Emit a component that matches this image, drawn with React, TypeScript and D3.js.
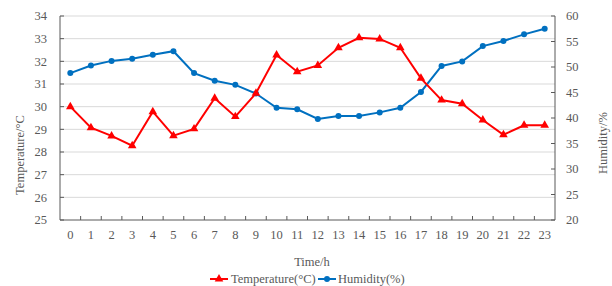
import React from "react";
import * as d3 from "d3";

const hours = ["0","1","2","3","4","5","6","7","8","9","10","11","12","13","14","15","16","17","18","19","20","21","22","23"];
const temperature = [30.0,29.07,28.71,28.28,29.78,28.72,29.02,30.37,29.56,30.59,32.28,31.54,31.82,32.6,33.04,32.99,32.6,31.25,30.29,30.13,29.41,28.76,29.18,29.18];
const humidity = [48.8,50.3,51.2,51.6,52.4,53.1,48.8,47.3,46.5,44.8,42.0,41.7,39.8,40.4,40.4,41.1,42.0,45.1,50.2,51.1,54.1,55.1,56.4,57.5];
const tempTicks = [25,26,27,28,29,30,31,32,33,34];
const humTicks = [20,25,30,35,40,45,50,55,60];

const W = 612, H = 286;
const left = 60, right = 555, top = 16, bottom = 220;
const RED = "#FF0000", BLUE = "#0070C0";
const FONT = "'Liberation Serif', 'Times New Roman', serif";
const TXT = "#595959";

export default function App() {
  const x = d3.scaleBand<string>().domain(hours).range([left, right]);
  const yT = d3.scaleLinear().domain([25, 34]).range([bottom, top]);
  const yH = d3.scaleLinear().domain([20, 60]).range([bottom, top]);
  const cx = (h: string) => (x(h) as number) + x.bandwidth() / 2;
  const lineT = d3.line<number>().x((_, i) => cx(hours[i])).y(d => yT(d));
  const lineH = d3.line<number>().x((_, i) => cx(hours[i])).y(d => yH(d));
  const tri = d3.symbol().type(d3.symbolTriangle).size(32)();
  const boundaries = hours.map(h => x(h) as number).concat([right]);

  return (
    <svg width={W} height={H} style={{ position: "absolute", left: 0, top: 0, background: "#fff" }}>
      {tempTicks.slice(1).map(t => (
        <line key={"g" + t} x1={left} x2={right} y1={yT(t)} y2={yT(t)} stroke="#D9D9D9" strokeWidth={1} />
      ))}
      <line x1={left} x2={left} y1={top} y2={bottom} stroke="#595959" strokeWidth={1} />
      <line x1={right} x2={right} y1={top} y2={bottom} stroke="#595959" strokeWidth={1} />
      <line x1={left} x2={right} y1={bottom} y2={bottom} stroke="#595959" strokeWidth={1} />
      {tempTicks.map(t => (
        <g key={"lt" + t}>
          <line x1={left} x2={left + 4} y1={yT(t)} y2={yT(t)} stroke="#595959" />
          <text x={47} y={yT(t)} dy="0.35em" textAnchor="end" fontFamily={FONT} fontSize={12.5} fill={TXT}>{t}</text>
        </g>
      ))}
      {humTicks.map(t => (
        <g key={"rt" + t}>
          <line x1={right - 4} x2={right} y1={yH(t)} y2={yH(t)} stroke="#595959" />
          <text x={566} y={yH(t)} dy="0.35em" textAnchor="start" fontFamily={FONT} fontSize={12.5} fill={TXT}>{t}</text>
        </g>
      ))}
      {boundaries.slice(1, -1).map((b, i) => (
        <line key={"bt" + i} x1={b} x2={b} y1={bottom - 4} y2={bottom} stroke="#595959" />
      ))}
      {hours.map(h => (
        <text key={"xl" + h} x={cx(h)} y={235} dy="0.35em" textAnchor="middle" fontFamily={FONT} fontSize={12.5} fill={TXT}>{h}</text>
      ))}
      <text transform={`translate(20,155) rotate(-90)`} textAnchor="middle" dy="0.35em" fontFamily={FONT} fontSize={12.5} fill={TXT}>Temperature/°C</text>
      <text transform={`translate(603,143) rotate(-90)`} textAnchor="middle" dy="0.35em" fontFamily={FONT} fontSize={12.5} fill={TXT}>Humidity/%</text>
      <text x={312} y={262} dy="0.35em" textAnchor="middle" fontFamily={FONT} fontSize={12.5} fill={TXT}>Time/h</text>
      <path d={lineH(humidity) as string} fill="none" stroke={BLUE} strokeWidth={2} />
      {humidity.map((v, i) => (
        <circle key={"hc" + i} cx={cx(hours[i])} cy={yH(v)} r={3} fill={BLUE} />
      ))}
      <path d={lineT(temperature) as string} fill="none" stroke={RED} strokeWidth={2} />
      {temperature.map((v, i) => (
        <path key={"tm" + i} d={tri as string} transform={`translate(${cx(hours[i])},${yT(v)})`} fill={RED} />
      ))}
      <line x1={210} x2={228} y1={279} y2={279} stroke={RED} strokeWidth={2} />
      <path d={tri as string} transform="translate(219,279)" fill={RED} />
      <text x={231} y={279} dy="0.35em" fontFamily={FONT} fontSize={12.5} fill={TXT}>Temperature(°C)</text>
      <line x1={318} x2={336} y1={279} y2={279} stroke={BLUE} strokeWidth={2} />
      <circle cx={327} cy={279} r={3} fill={BLUE} />
      <text x={338} y={279} dy="0.35em" fontFamily={FONT} fontSize={12.5} fill={TXT}>Humidity(%)</text>
    </svg>
  );
}
